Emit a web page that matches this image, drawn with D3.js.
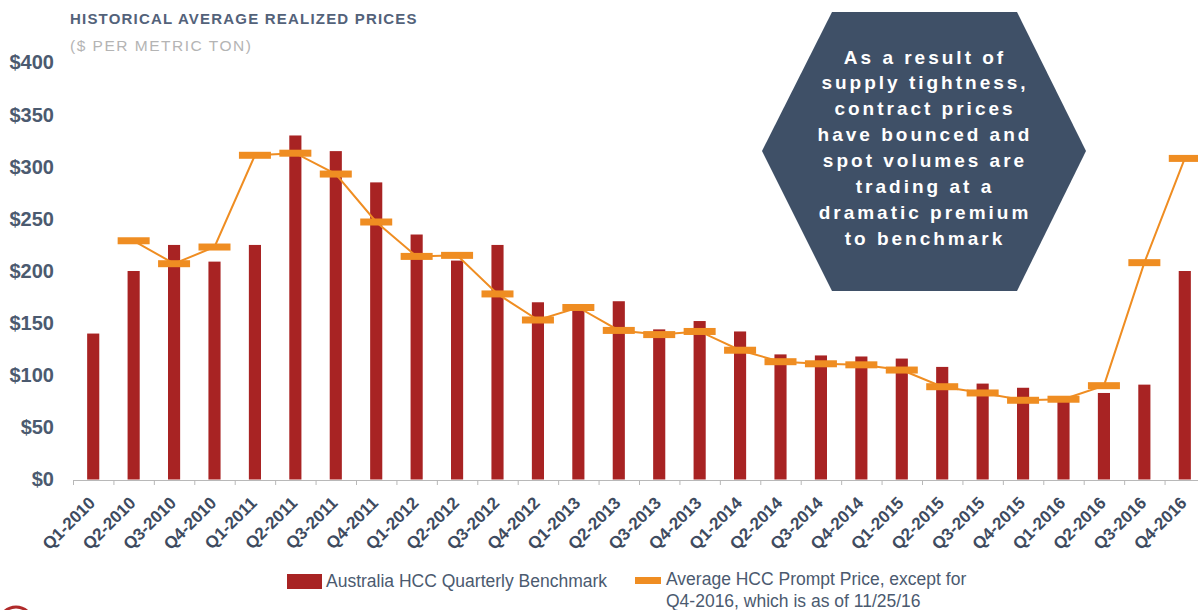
<!DOCTYPE html>
<html>
<head>
<meta charset="utf-8">
<script src="https://cdn.jsdelivr.net/npm/d3@7"></script>
<style>
  body { margin: 0; background: #fff; }
  svg { display: block; font-family: "Liberation Sans", Arial, sans-serif; }
</style>
</head>
<body>
<svg id="chart" width="1198" height="610"></svg>
<script>
// quarters on the x axis
const quarters = [
  "Q1-2010", "Q2-2010", "Q3-2010", "Q4-2010",
  "Q1-2011", "Q2-2011", "Q3-2011", "Q4-2011",
  "Q1-2012", "Q2-2012", "Q3-2012", "Q4-2012",
  "Q1-2013", "Q2-2013", "Q3-2013", "Q4-2013",
  "Q1-2014", "Q2-2014", "Q3-2014", "Q4-2014",
  "Q1-2015", "Q2-2015", "Q3-2015", "Q4-2015",
  "Q1-2016", "Q2-2016", "Q3-2016", "Q4-2016"
];

// Australia HCC quarterly benchmark ($/t) - bars
const benchmark = [140, 200, 225, 209, 225, 330, 315, 285, 235, 210, 225, 170,
  166, 171, 144, 152, 142, 120, 119, 118, 116, 108, 92, 88, 77, 83, 91, 200];

// average HCC prompt price ($/t) - orange dashes + line
const promptPrice = [null, 229, 207, 223, 311, 313, 293, 247, 214, 215, 178, 153,
  165, 143, 139, 142, 124, 113, 111, 110, 105, 89, 83, 76, 77, 90, 208, 308];

const yTicks = [0, 50, 100, 150, 200, 250, 300, 350, 400];

const calloutLines = [
  "As a result of", "supply tightness,", "contract prices", "have bounced and",
  "spot volumes are", "trading at a", "dramatic premium", "to benchmark"
];

const svg = d3.select("#chart");

const x = d3.scaleBand()
  .domain(quarters)
  .range([73, 1205])
  .paddingInner(0.7)
  .paddingOuter(0.35);

const edge = d3.scaleLinear().domain([0, quarters.length]).range([73, 1205]);

const y = d3.scaleLinear().domain([0, 400]).range([479.5, 62.5]);

const cx = d => x(d) + x.bandwidth() / 2;

// title
svg.append("text")
  .attr("x", 70).attr("y", 24)
  .style("font-size", "15px").style("font-weight", "bold")
  .style("letter-spacing", "1.2px")
  .style("fill", "#53627a")
  .text("HISTORICAL AVERAGE REALIZED PRICES");

svg.append("text")
  .attr("x", 70).attr("y", 51)
  .style("font-size", "15.5px")
  .style("letter-spacing", "1.5px")
  .style("fill", "#b4b4b4")
  .text("($ PER METRIC TON)");

// y axis: labels only
const yAxis = svg.append("g")
  .attr("transform", "translate(54,0)")
  .call(d3.axisLeft(y).tickValues(yTicks).tickSize(0).tickPadding(0).tickFormat(d => "$" + d));
yAxis.select(".domain").remove();
yAxis.selectAll("text")
  .style("font-family", "'Liberation Sans', Arial, sans-serif")
  .style("font-size", "20px").style("font-weight", "bold")
  .style("fill", "#4b5a6f");

// x axis line with ticks between categories
const xAxis = svg.append("g")
  .attr("transform", "translate(0,480)")
  .call(d3.axisBottom(edge).tickValues(d3.range(quarters.length + 1)).tickSize(5).tickSizeOuter(0).tickFormat(""));
xAxis.select(".domain").attr("stroke", "#b8b8b8");
xAxis.selectAll(".tick line").attr("stroke", "#b8b8b8");

svg.append("g").selectAll("text")
  .data(quarters)
  .enter()
  .append("text")
  .attr("transform", d => `translate(${cx(d) + 3},504) rotate(-45)`)
  .attr("text-anchor", "end")
  .style("font-size", "17px").style("font-weight", "bold")
  .style("fill", "#3e4b5f")
  .text(d => d);

// bars
svg.append("g").selectAll(".bar")
  .data(quarters)
  .enter()
  .append("rect")
  .attr("class", "bar")
  .attr("x", d => x(d))
  .attr("y", (d, i) => y(benchmark[i]))
  .attr("width", x.bandwidth())
  .attr("height", (d, i) => y(0) - y(benchmark[i]))
  .style("fill", "#a82323");

// prompt price line
const pts = quarters.map((q, i) => ({ q: q, v: promptPrice[i] })).filter(d => d.v != null);

svg.append("path")
  .datum(pts)
  .attr("d", d3.line().x(d => cx(d.q)).y(d => y(d.v)))
  .style("fill", "none")
  .style("stroke", "#ef8d22")
  .style("stroke-width", 2);

svg.append("g").selectAll(".dash")
  .data(pts)
  .enter()
  .append("rect")
  .attr("class", "dash")
  .attr("x", d => cx(d.q) - 16)
  .attr("y", d => y(d.v) - 3.5)
  .attr("width", 32)
  .attr("height", 7)
  .style("fill", "#ef8d22");

// callout hexagon
const hex = [[832, 12], [1017, 12], [1086, 151], [1017, 291], [832, 291], [762, 151]];
svg.append("polygon")
  .attr("points", hex.map(p => p.join(",")).join(" "))
  .style("fill", "#3f5067");

svg.append("g").selectAll("text")
  .data(calloutLines)
  .enter()
  .append("text")
  .attr("x", 925)
  .attr("y", (d, i) => 63.5 + i * 25.97)
  .attr("text-anchor", "middle")
  .style("font-size", "19px").style("font-weight", "bold")
  .style("letter-spacing", "3px")
  .style("fill", "#ffffff")
  .text(d => d);

// legend
const legend = svg.append("g");
legend.append("rect").attr("x", 287).attr("y", 574).attr("width", 35).attr("height", 15).style("fill", "#a82323");
legend.append("text").attr("x", 326).attr("y", 587)
  .style("font-size", "17.5px").style("fill", "#4b5a6f")
  .text("Australia HCC Quarterly Benchmark");
legend.append("rect").attr("x", 635).attr("y", 577).attr("width", 26).attr("height", 7).style("fill", "#ef8d22");
legend.append("text").attr("x", 666).attr("y", 585)
  .style("font-size", "17.5px").style("fill", "#4b5a6f")
  .text("Average HCC Prompt Price, except for");
legend.append("text").attr("x", 666).attr("y", 606.5)
  .style("font-size", "17.5px").style("fill", "#4b5a6f")
  .text("Q4-2016, which is as of 11/25/16");

// bit of the logo ring peeking in at bottom-left
svg.append("circle")
  .attr("cx", 16).attr("cy", 624).attr("r", 17)
  .style("fill", "none").style("stroke", "#b02a2a").style("stroke-width", 3);
</script>
</body>
</html>
